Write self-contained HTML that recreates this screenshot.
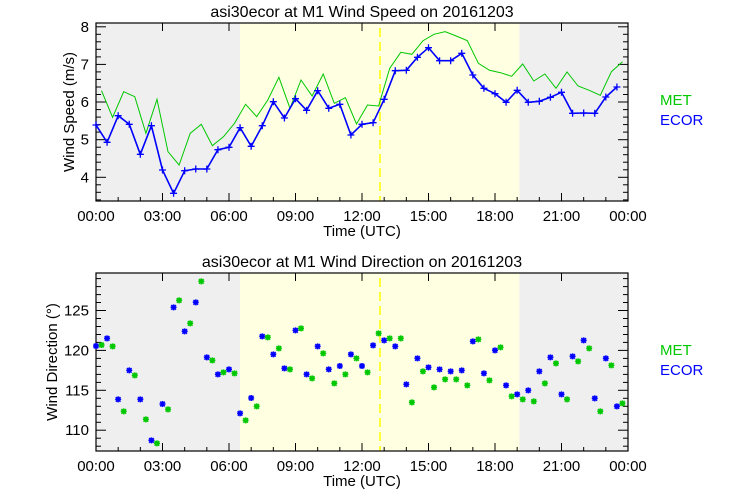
<!DOCTYPE html>
<html><head><meta charset="utf-8"><style>
html,body{margin:0;padding:0;background:#fff;}
svg{display:block;font-family:"Liberation Sans","DejaVu Sans",sans-serif;}
</style></head><body>
<svg id="s" width="740" height="500" viewBox="0 0 740 500" xmlns="http://www.w3.org/2000/svg"></svg>
<script>
const S=document.getElementById('s');let h='';
const X0=96,X1=628,W=X1-X0;
function tx(t){return X0+t/24*W;}
function panel(top,bot,ymin,ymax,maj,minStep,labels,title,ylab,ylx){
  const Y=v=>bot-(v-ymin)/(ymax-ymin)*(bot-top);
  h+=`<rect x="${X0}" y="${top}" width="${tx(6.5)-X0}" height="${bot-top}" fill="#efefef"/>`;
  h+=`<rect x="${tx(6.5)}" y="${top}" width="${tx(19.1)-tx(6.5)}" height="${bot-top}" fill="#ffffe2"/>`;
  h+=`<rect x="${tx(19.1)}" y="${top}" width="${X1-tx(19.1)}" height="${bot-top}" fill="#efefef"/>`;
  h+=`<line x1="380" y1="${top+5}" x2="380" y2="${bot}" stroke="#ffff00" stroke-width="1.5" stroke-dasharray="9,5"/>`;
  for(let v=Math.ceil(ymin/minStep)*minStep;v<=ymax+1e-9;v+=minStep){
    const y=Y(v).toFixed(1);const isMaj=Math.abs(v/maj-Math.round(v/maj))<1e-6;const L=isMaj?10:5;
    h+=`<line x1="${X0}" y1="${y}" x2="${X0+L}" y2="${y}" stroke="#000"/><line x1="${X1}" y1="${y}" x2="${X1-L}" y2="${y}" stroke="#000"/>`;
  }
  labels.forEach(v=>{h+=`<text x="${X0-7}" y="${Y(v)+5}" font-size="15" text-anchor="end">${v}</text>`;});
  const tl=['00:00','03:00','06:00','09:00','12:00','15:00','18:00','21:00','00:00'];
  for(let i=0;i<=8;i++){const x=tx(i*3);
    h+=`<line x1="${x}" y1="${bot}" x2="${x}" y2="${bot-8}" stroke="#000"/><line x1="${x}" y1="${top}" x2="${x}" y2="${top+8}" stroke="#000"/>`;
    h+=`<text x="${x}" y="${bot+20}" font-size="15" text-anchor="middle">${tl[i]}</text>`;}
  for(let i=1;i<24;i++){if(i%3){const x=tx(i);h+=`<line x1="${x}" y1="${bot}" x2="${x}" y2="${bot-4}" stroke="#000"/>`;}}
  h+=`<rect x="${X0}" y="${top}" width="${W}" height="${bot-top}" fill="none" stroke="#000" stroke-width="1.2"/>`;
  h+=`<text x="362" y="${top-6}" font-size="16" text-anchor="middle">${title}</text>`;
  h+=`<text x="362" y="${bot+35}" font-size="15" text-anchor="middle">Time (UTC)</text>`;
  const cy=(top+bot)/2;
  h+=`<text transform="translate(${ylx},${cy}) rotate(-90)" font-size="15" text-anchor="middle">${ylab}</text>`;
  h+=`<text x="660" y="${top+82}" font-size="15" fill="#00c800">MET</text><text x="660" y="${top+102}" font-size="15" fill="#0000ff">ECOR</text>`;
}
panel(23,201,3.37,8.1,1,0.2,[4,5,6,7,8],'asi30ecor at M1 Wind Speed on 20161203','Wind Speed (m/s)',74);
panel(273,451,107.4,129.7,5,1,[110,115,120,125],'asi30ecor at M1 Wind Direction on 20161203','Wind Direction (°)',57);
const ey=[125,142.3,115.7,124.3,154.3,125.7,170,193.3,170.7,169,169,149.7,147.3,127.7,146.3,125.7,101.7,118,98.7,110.3,90.7,108.3,104.3,135,124.3,122.7,99.3,70.7,70.3,57.3,47.7,60.7,60.7,53.3,75,88.3,93.7,102.3,90.3,102.3,101.3,97.3,92.3,113.3,113,113.3,97,87];
const gy=[90.7,117.3,91.7,96.7,133.3,99.3,151.7,165,133.3,124.3,145.7,136.7,123.3,104.3,116.7,100,77.3,108.3,80,96,74,103.3,97.7,124,105,106,68.3,52.3,54.3,40.7,34.3,31.7,36,40.7,63.3,70.3,72.7,76.3,64,81,74,88.3,72,86,90.3,95.3,71.7,61.7];
h+=`<polyline fill="none" stroke="#00c800" stroke-width="1" points="${gy.map((y,i)=>tx(i*0.5+0.25).toFixed(1)+','+y).join(' ')}"/>`;
h+=`<polyline fill="none" stroke="#0000ff" stroke-width="1.6" points="${ey.map((y,i)=>tx(i*0.5).toFixed(1)+','+y).join(' ')}"/>`;
ey.forEach((y,i)=>{const x=tx(i*0.5);h+=`<path d="M${x-3.5},${y}h7M${x},${y-3.5}v7" stroke="#0000ff" stroke-width="1.3"/>`;});
const by=[288,265,448,361,448,571,462,172,244,157,322,373,358,490,444,259,313,355,241,373,289,358,348,313,348,286,271,289,403,325,352,358,364,361,274,370,301,406,433,421,364,322,433,319,271,445,325,469];
const dgy=[285,289,484,376,508,580,478,151,220,94,331,367,370,511,469,262,295,358,235,385,310,400,373,325,367,250,265,265,457,364,412,388,388,406,268,391,292,439,448,454,400,340,448,334,295,484,346,460];
function star(x,y,c){return `<path d="M${x-3},${y}h6M${x},${y-3}v6M${x-2.3},${y-2.3}l4.6,4.6M${x-2.3},${y+2.3}l4.6,-4.6" stroke="${c}" stroke-width="1.6"/>`;}
by.forEach((v,i)=>{h+=star(tx(i*0.5),250+v/3,'#0000ff');});
dgy.forEach((v,i)=>{h+=star(tx(i*0.5+0.25),250+v/3,'#00c800');});
S.innerHTML=h;
</script>
</body></html>
